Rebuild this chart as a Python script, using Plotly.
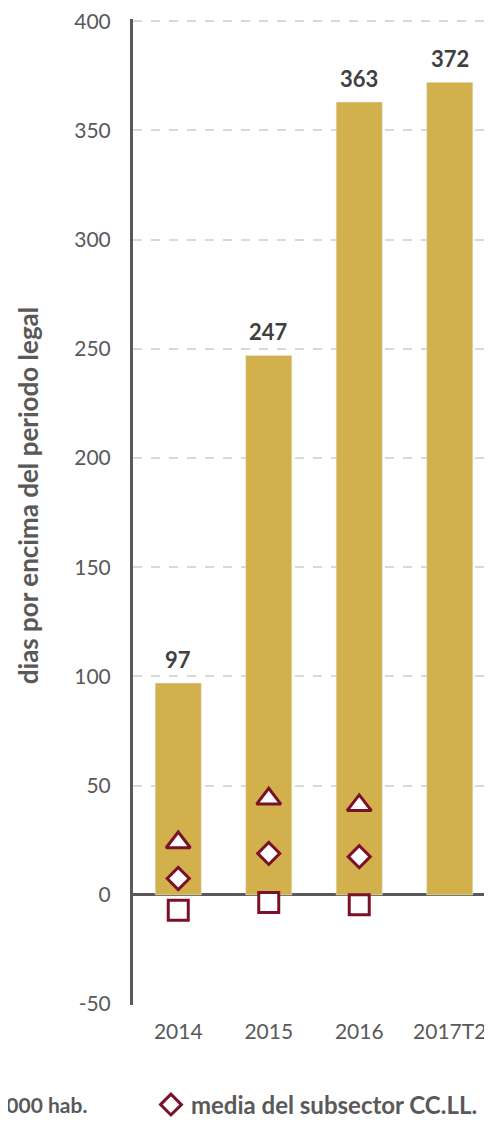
import plotly.graph_objects as go

# Days above the legal payment period
years = ["2014", "2015", "2016", "2017T2"]
dias = [97, 247, 363, 372]

# marker series (only first three years)
marker_years = ["2014", "2015", "2016"]
triangulo = [24, 44, 41]
rombo = [7.5, 19, 17.5]
cuadrado = [-7, -3.5, -4.5]

y_ticks = [-50, 0, 50, 100, 150, 200, 250, 300, 350, 400]

gold = "#D2B04C"
wine = "#7B1128"
grey = "#595959"
font_fam = "Lato, 'Open Sans', sans-serif"

fig = go.Figure()

fig.add_trace(go.Bar(
    x=years, y=dias, marker_color=gold, width=0.51, showlegend=False,
))

fig.add_trace(go.Scatter(
    x=marker_years, y=cuadrado, mode="markers", name="capitales de provincia",
    showlegend=False,
    marker=dict(symbol="square", size=20, color="white", line=dict(color=wine, width=3)),
))
fig.add_trace(go.Scatter(
    x=marker_years, y=triangulo, mode="markers", name="municipios > 20.000 hab.",
    showlegend=False,
    marker=dict(symbol="triangle-up", size=21, color="white", line=dict(color=wine, width=3)),
))
fig.add_trace(go.Scatter(
    x=marker_years, y=rombo, mode="markers", name="media del subsector CC.LL.",
    marker=dict(symbol="diamond", size=17, color="white", line=dict(color=wine, width=3)),
))

# value labels above bars (category index as x)
for i, v in enumerate(dias):
    fig.add_annotation(x=i, y=v, text=f"<b>{v}</b>", showarrow=False,
                       yanchor="bottom", yshift=8,
                       font=dict(size=22, color="#404040", family=font_fam))

# y title
fig.add_annotation(xref="paper", yref="paper", x=-0.2925, y=0.517,
                   text="<b>dias por encima del periodo legal</b>", textangle=-90,
                   showarrow=False, xanchor="center", yanchor="middle",
                   font=dict(size=26, color=grey, family=font_fam))

# legend entry partly outside the visible page
fig.add_annotation(xref="paper", yref="paper", x=-0.1226, y=-0.1014,
                   text="<b>municipios > 20.000 hab.</b>", showarrow=False,
                   xanchor="right", yanchor="middle",
                   font=dict(size=21, color=grey, family=font_fam))

fig.update_layout(
    width=484, height=1116,
    margin=dict(l=125, r=0, t=11, b=119, autoexpand=False),
    plot_bgcolor="white", paper_bgcolor="white",
    font=dict(family=font_fam, color=grey, size=21),
    legend=dict(
        orientation="h", x=0.05, xanchor="left", y=-0.1014, yanchor="middle",
        font=dict(size=24, color=grey, family=font_fam, weight="bold"),
        itemsizing="trace",
    ),
    xaxis=dict(
        type="category",
        range=[-0.5, 3.467], showgrid=False, showline=False,
        ticks="outside", ticklen=8, tickcolor="rgba(0,0,0,0)",
        tickfont=dict(size=21, color=grey),
    ),
    yaxis=dict(
        range=[-50.4, 401], tickvals=y_ticks, ticktext=[str(t) for t in y_ticks],
        ticklabeloverflow="allow",
        showgrid=True, gridcolor="#D9D9D9", griddash="dash", gridwidth=1.5,
        showline=True, linecolor=grey, linewidth=3,
        zeroline=True, zerolinecolor=grey, zerolinewidth=3,
        ticks="outside", ticklen=15, tickcolor="rgba(0,0,0,0)",
        tickfont=dict(size=21, color=grey),
    ),
)

fig.write_html("out.html")
